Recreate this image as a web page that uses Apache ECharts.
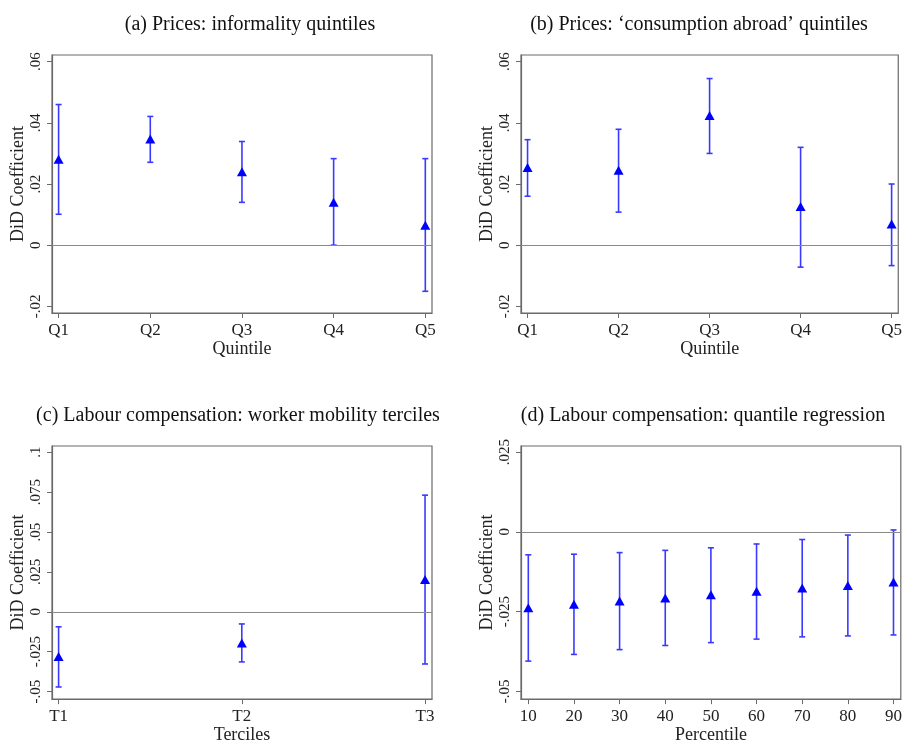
<!DOCTYPE html>
<html>
<head>
<meta charset="utf-8">
<script src="https://cdn.jsdelivr.net/npm/echarts@6/dist/echarts.min.js"></script>
<style>
html,body{margin:0;padding:0;background:#fff;}
#chart{width:905px;height:745px;}
</style>
</head>
<body>
<div id="chart"></div>
<script>
// ---- Data ----
const titles = [
  "(a) Prices: informality quintiles",
  "(b) Prices: \u2018consumption abroad\u2019 quintiles",
  "(c) Labour compensation: worker mobility terciles",
  "(d) Labour compensation: quantile regression"
];
const quintileLabels = ["Q1","Q2","Q3","Q4","Q5"];
const tercileLabels = ["T1","T2","T3"];
const percentiles = [10,20,30,40,50,60,70,80,90];

// (a) informality quintiles
const aPoint = [0.0281, 0.0347, 0.0240, 0.0140, 0.0065];
const aLow   = [0.0101, 0.0271, 0.0140, 0.0000, -0.0151];
const aHigh  = [0.0460, 0.0421, 0.0339, 0.0283, 0.0283];

// (b) consumption abroad quintiles
const bPoint = [0.0254, 0.0245, 0.0424, 0.0126, 0.0069];
const bLow   = [0.0160, 0.0108, 0.0300, -0.0072, -0.0067];
const bHigh  = [0.0345, 0.0379, 0.0545, 0.0320, 0.0200];

// (c) worker mobility terciles
const cPoint = [-0.0280, -0.0196, 0.0202];
const cLow   = [-0.0471, -0.0314, -0.0327];
const cHigh  = [-0.0094, -0.0076, 0.0731];

// (d) quantile regression
const dPoint = [-0.0238, -0.0227, -0.0217, -0.0207, -0.0197, -0.0186, -0.0176, -0.0168, -0.0157];
const dLow   = [-0.0405, -0.0384, -0.0369, -0.0356, -0.0347, -0.0336, -0.0329, -0.0326, -0.0323];
const dHigh  = [-0.0072, -0.0070, -0.0065, -0.0058, -0.0050, -0.0038, -0.0024, -0.0010, 0.0006];

// tick values
const yTicksAB = [-0.02, 0, 0.02, 0.04, 0.06];
const yTicksC = [-0.05, -0.025, 0, 0.025, 0.05, 0.075, 0.1];
const yTicksD = [-0.05, -0.025, 0, 0.025];

// ---- Build ----
const FONT = "Liberation Serif";
const MARK = "#0000ff";
const BAR = "#3a3aff";
const FRAME = "#6a6a6a";

function fmtY(v){
  let s = parseFloat(v.toFixed(4)).toString();
  return s.replace(/^(-?)0\./, "$1.");
}

const panels = [
  {title: titles[0], titleX: 245, xName: "Quintile", xs: [1,2,3,4,5], xLabelFn: v => quintileLabels[Math.round(v)-1],
   xMin: 0.928, xMax: 5.073, yMin: -0.0222, yMax: 0.0622, yTicks: yTicksAB,
   pt: aPoint, lo: aLow, hi: aHigh,
   grid: {left: 52, top: 55, width: 380, height: 258}},
  {title: titles[1], titleX: 694, xName: "Quintile", xs: [1,2,3,4,5], xLabelFn: v => quintileLabels[Math.round(v)-1],
   xMin: 0.928, xMax: 5.073, yMin: -0.0222, yMax: 0.0622, yTicks: yTicksAB,
   pt: bPoint, lo: bLow, hi: bHigh,
   grid: {left: 521, top: 55, width: 381, height: 258}},
  {title: titles[2], titleX: 233, xName: "Terciles", xs: [1,2,3], xLabelFn: v => tercileLabels[Math.round(v)-1],
   xMin: 0.964, xMax: 3.038, yMin: -0.0547, yMax: 0.1039, yTicks: yTicksC,
   pt: cPoint, lo: cLow, hi: cHigh,
   grid: {left: 52, top: 446, width: 380, height: 259}},
  {title: titles[3], titleX: 698, xName: "Percentile", xs: percentiles, xLabelFn: v => String(Math.round(v)),
   xMin: 8.4, xMax: 91.6, yMin: -0.0524, yMax: 0.0269, yTicks: yTicksD,
   pt: dPoint, lo: dLow, hi: dHigh,
   grid: {left: 521, top: 446, width: 381, height: 259}}
];

const grid = [], xAxis = [], yAxis = [], series = [], title = [];

panels.forEach((p, i) => {
  grid.push(Object.assign({show: true, borderColor: FRAME, borderWidth: 1.2, backgroundColor: "#fff"}, p.grid));
  title.push({
    text: p.title,
    left: p.titleX,
    top: p.grid.top - 45,
    textAlign: "center",
    textStyle: {fontFamily: FONT, fontSize: 20, fontWeight: "normal", color: "#111"}
  });
  xAxis.push({
    type: "value", gridIndex: i, min: p.xMin, max: p.xMax,
    name: p.xName, nameLocation: "middle", nameGap: 25,
    nameTextStyle: {fontFamily: FONT, fontSize: 18, color: "#222"},
    axisLine: {show: true, onZero: false, lineStyle: {color: FRAME, width: 1.2}},
    axisTick: {show: true, length: 5, customValues: p.xs, lineStyle: {color: FRAME}},
    axisLabel: {customValues: p.xs, formatter: p.xLabelFn, margin: 9,
      fontFamily: FONT, fontSize: 17, color: "#222"},
    splitLine: {show: false}
  });
  yAxis.push({
    type: "value", gridIndex: i, min: p.yMin, max: p.yMax,
    name: "DiD Coefficient", nameLocation: "middle", nameGap: 25, nameRotate: 90,
    nameTextStyle: {fontFamily: FONT, fontSize: 18, color: "#222"},
    axisLine: {show: true, onZero: false, lineStyle: {color: FRAME, width: 1.2}},
    axisTick: {show: true, length: 5, customValues: p.yTicks, lineStyle: {color: FRAME}},
    axisLabel: {customValues: p.yTicks, formatter: fmtY, rotate: 90, margin: 8,
      fontFamily: FONT, fontSize: 15, color: "#222"},
    splitLine: {show: false}
  });
  // zero line
  series.push({
    type: "line", xAxisIndex: i, yAxisIndex: i, data: [],
    silent: true,
    markLine: {
      silent: true, symbol: "none", label: {show: false},
      lineStyle: {color: "#8a8a8a", width: 1.2, type: "solid"},
      data: [{yAxis: 0}]
    }
  });
  // error bars
  const ebData = p.xs.map((x, k) => [x, p.lo[k], p.hi[k]]);
  series.push({
    type: "custom", xAxisIndex: i, yAxisIndex: i, data: ebData, z: 3,
    renderItem: function(params, api){
      const x = api.value(0);
      const lo = api.coord([x, api.value(1)]);
      const hi = api.coord([x, api.value(2)]);
      const w = 3;
      const st = {stroke: BAR, lineWidth: 1.6};
      return {type: "group", children: [
        {type: "line", shape: {x1: lo[0], y1: lo[1], x2: hi[0], y2: hi[1]}, style: st},
        {type: "line", shape: {x1: lo[0]-w, y1: lo[1], x2: lo[0]+w, y2: lo[1]}, style: st},
        {type: "line", shape: {x1: hi[0]-w, y1: hi[1], x2: hi[0]+w, y2: hi[1]}, style: st}
      ]};
    }
  });
  // point estimates
  series.push({
    type: "scatter", xAxisIndex: i, yAxisIndex: i, z: 4,
    data: p.xs.map((x, k) => [x, p.pt[k]]),
    symbol: "triangle", symbolSize: [10, 9],
    itemStyle: {color: MARK, opacity: 1}
  });
});

const chart = echarts.init(document.getElementById("chart"), null, {renderer: "canvas"});
chart.setOption({
  animation: false,
  backgroundColor: "#fff",
  title, grid, xAxis, yAxis, series
});
</script>
</body>
</html>
